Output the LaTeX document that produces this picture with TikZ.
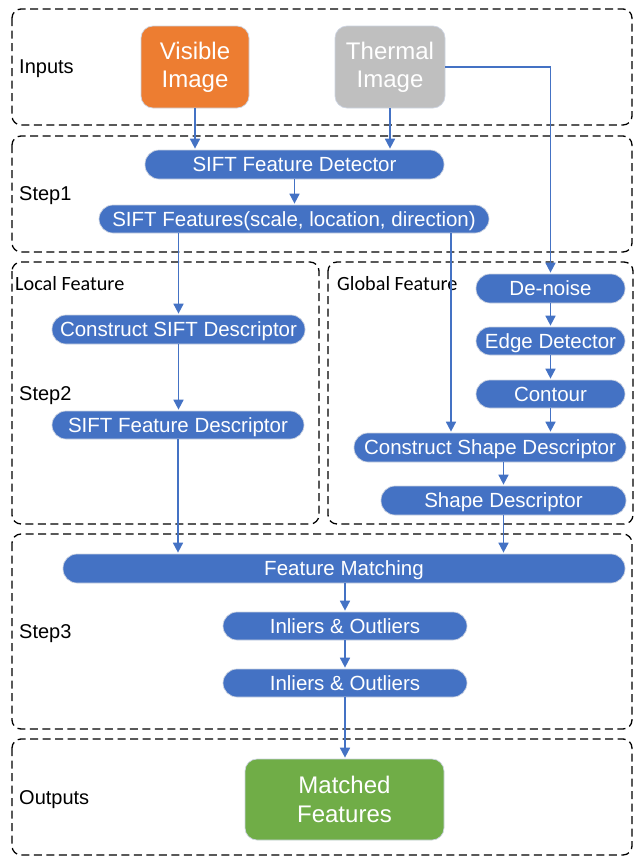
\documentclass[tikz,border=0pt]{standalone}
\usepackage{fontspec}
\setmainfont{Liberation Sans}
\newfontfamily\calfont{Carlito}
\usetikzlibrary{arrows.meta}

\definecolor{nodeblue}{HTML}{4472C4}
\definecolor{nodeorange}{HTML}{ED7D31}
\definecolor{nodegray}{HTML}{BFBFBF}
\definecolor{nodegreen}{HTML}{70AD47}
\definecolor{nodeedge}{RGB}{205,212,225}

\tikzset{
  group/.style={draw=black, line width=1.3pt, dash pattern=on 8pt off 4.5pt, rounded corners=9pt},
  pill/.style={fill=nodeblue, draw=nodeedge, line width=0.7pt, rounded corners=14pt,
    text=white, font=\fontsize{20.5}{24}\selectfont, inner sep=0pt,
    text height=14.7pt, text depth=0pt},
  imgbox/.style={draw=nodeedge, line width=0.7pt, rounded corners=12pt,
    text=white, font=\fontsize{24}{28}\selectfont, align=center, inner sep=0pt},
  lbl/.style={anchor=base west, inner sep=0pt, font=\fontsize{20}{24}\selectfont},
  sublbl/.style={anchor=base west, inner sep=0pt, font=\calfont\fontsize{20.2}{24}\selectfont},
  arr/.style={draw=nodeblue, line width=1.7pt, -{Triangle[length=10pt,width=10pt]}, shorten >=1pt},
}

\begin{document}
\begin{tikzpicture}[x=1pt, y=-1pt]
\useasboundingbox (0,0) rectangle (634,857);

% dashed stage frames
\draw[group] (12,9) rectangle (632,125);
\draw[group] (12,136) rectangle (632,252);
\draw[group] (12,262) rectangle (319,524);
\draw[group] (328,262) rectangle (633,524);
\draw[group] (12,534) rectangle (632,729);
\draw[group] (12,739) rectangle (632,855);

% stage labels
\node[lbl] (linputs) at (19,73.5) {Inputs};
\node[lbl] (lstep1) at (19,200) {Step1};
\node[sublbl] (llocal) at (15,290) {Local Feature};
\node[sublbl] (lglobal) at (337,290) {Global Feature};
\node[lbl] (lstep2) at (19,400) {Step2};
\node[lbl] (lstep3) at (19,638) {Step3};
\node[lbl] (loutputs) at (19,804) {Outputs};

% input and output images
\node[imgbox, fill=nodeorange, minimum width=108pt, minimum height=82pt] (visible) at (195,67) {Visible\\Image};
\node[imgbox, fill=nodegray, minimum width=110pt, minimum height=82pt] (thermal) at (390,67) {Thermal\\Image};
\node[imgbox, fill=nodegreen, minimum width=199pt, minimum height=81pt] (matched) at (344.5,799.5) {Matched\\[1pt]Features};

% processing steps
\node[pill, minimum width=299pt, minimum height=29pt] (det) at (294.5,164.5) {SIFT Feature Detector};
\node[pill, minimum width=390pt, minimum height=28pt] (feat) at (294,219) {SIFT Features(scale, location, direction)};
\node[pill, minimum width=253pt, minimum height=29pt] (csift) at (178.5,329.5) {Construct SIFT Descriptor};
\node[pill, minimum width=252pt, minimum height=28pt] (sdesc) at (178,425) {SIFT Feature Descriptor};
\node[pill, minimum width=149pt, minimum height=29pt] (denoise) at (550.5,288.5) {De-noise};
\node[pill, minimum width=149pt, minimum height=28pt] (edge) at (550.5,341) {Edge Detector};
\node[pill, minimum width=149pt, minimum height=28pt] (contour) at (550.5,394) {Contour};
\node[pill, minimum width=272pt, minimum height=29pt] (cshape) at (490,447.5) {Construct Shape Descriptor};
\node[pill, minimum width=245pt, minimum height=29pt] (shape) at (503.5,500.5) {Shape Descriptor};
\node[pill, minimum width=562pt, minimum height=29pt] (fm) at (344,568.5) {Feature Matching};
\node[pill, minimum width=244pt, minimum height=28pt] (in1) at (345,626) {Inliers \& Outliers};
\node[pill, minimum width=244pt, minimum height=28pt] (in2) at (345,683) {Inliers \& Outliers};

% tap on the feature bar feeding the shape branch
\coordinate (gtap) at (451,219);

% connectors
\draw[arr] (visible.south) -- (visible.south |- det.north);
\draw[arr] (thermal.south) -- (thermal.south |- det.north);
\draw[arr] (thermal.east) -| (denoise.north);
\draw[arr] (det.south) -- (det.south |- feat.north);
\draw[arr] (csift.north |- feat.south) -- (csift.north);
\draw[arr] (gtap |- feat.south) -- (gtap |- cshape.north);
\draw[arr] (csift.south) -- (sdesc.north -| csift.south);
\draw[arr] (sdesc.south) -- (sdesc.south |- fm.north);
\draw[arr] (denoise.south) -- (edge.north);
\draw[arr] (edge.south) -- (contour.north);
\draw[arr] (contour.south) -- (contour.south |- cshape.north);
\draw[arr] (shape.north |- cshape.south) -- (shape.north);
\draw[arr] (shape.south) -- (shape.south |- fm.north);
\draw[arr] (fm.south -| in1.north) -- (in1.north);
\draw[arr] (in1.south) -- (in2.north);
\draw[arr] (in2.south) -- (in2.south |- matched.north);
\end{tikzpicture}
\end{document}
